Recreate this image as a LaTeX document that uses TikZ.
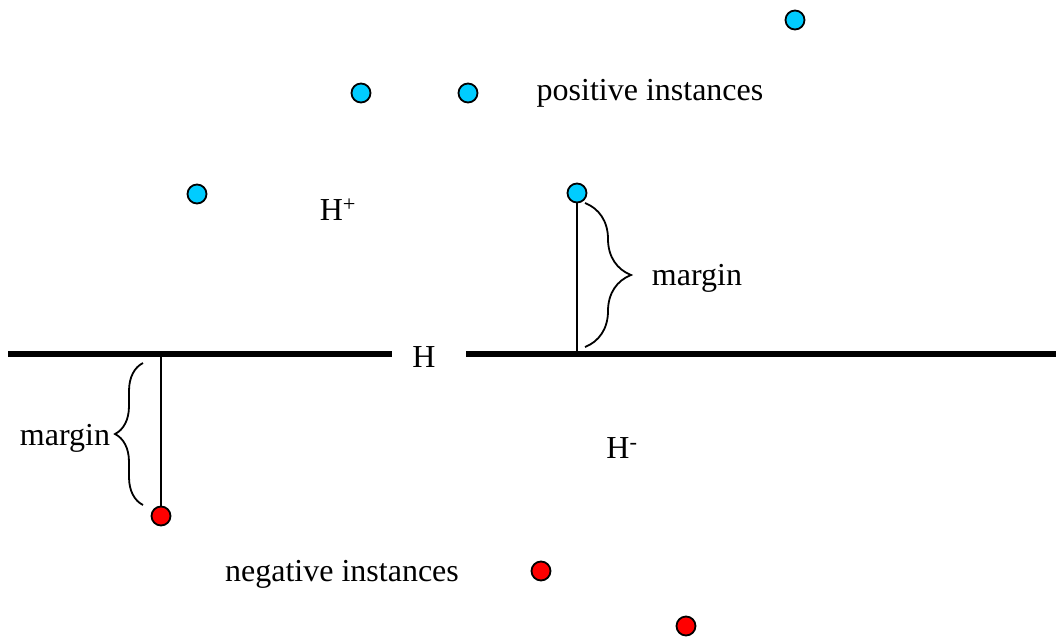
\documentclass[tikz,border=0pt]{standalone}
\usepackage{fontspec}
\setmainfont{Liberation Serif}
\usetikzlibrary{decorations.pathreplacing}
\definecolor{posblue}{RGB}{0,204,255}
\definecolor{negred}{RGB}{255,0,0}
\tikzset{
  lbl/.style={font=\fontsize{32}{38}\selectfont, inner sep=0pt, text=black},
  posdot/.style={circle, draw=black, line width=1.8pt, fill=posblue, minimum size=19pt, inner sep=0pt},
  negdot/.style={circle, draw=black, line width=1.8pt, fill=negred, minimum size=19pt, inner sep=0pt},
  hyper/.style={line width=6.5pt},
  marginline/.style={line width=1.6pt},
  bracedec/.style={line width=1.8pt, decorate, decoration={brace, amplitude=#1}}
}
\begin{document}
\begin{tikzpicture}[x=1pt, y=-1pt]
\useasboundingbox (0,0) rectangle (1056,637);
% hyperplane
\coordinate (hl1) at (8,354);
\coordinate (hl2) at (392,354);
\coordinate (hr1) at (466,354);
\coordinate (hr2) at (1056,354);
\draw[hyper] (hl1) -- (hl2);
\draw[hyper] (hr1) -- (hr2);
\node[lbl] (H) at (424,357) {H};
% positive instances
\node[posdot] (p1) at (795,20) {};
\node[posdot] (p2) at (361,93) {};
\node[posdot] (p3) at (468,93) {};
\node[posdot] (p4) at (197,194) {};
\node[posdot] (p5) at (577,193) {};
% negative instances
\node[negdot] (n1) at (161,516) {};
\node[negdot] (n2) at (541,571) {};
\node[negdot] (n3) at (686,626) {};
% labels
\node[lbl] (plab) at (650,93) {positive instances};
\node[lbl] (nlab) at (342,574) {negative instances};
\node[lbl] (Hp) at (338,210) {H\textsuperscript{+}};
\node[lbl] (Hm) at (622,448) {H\textsuperscript{-}};
% margin lines
\coordinate (f1) at (577,354);
\coordinate (f2) at (161,354);
\draw[marginline] (p5) -- (f1);
\draw[marginline] (f2) -- (n1);
% braces
\coordinate (b1a) at (585,203);
\coordinate (b1b) at (585,347);
\draw[bracedec=46pt] (b1a) -- (b1b);
\node[lbl] (m1) at (697,278) {margin};
\coordinate (b2a) at (143,505);
\coordinate (b2b) at (143,363);
\draw[bracedec=28pt] (b2a) -- (b2b);
\node[lbl] (m2) at (65,438) {margin};
\end{tikzpicture}
\end{document}
